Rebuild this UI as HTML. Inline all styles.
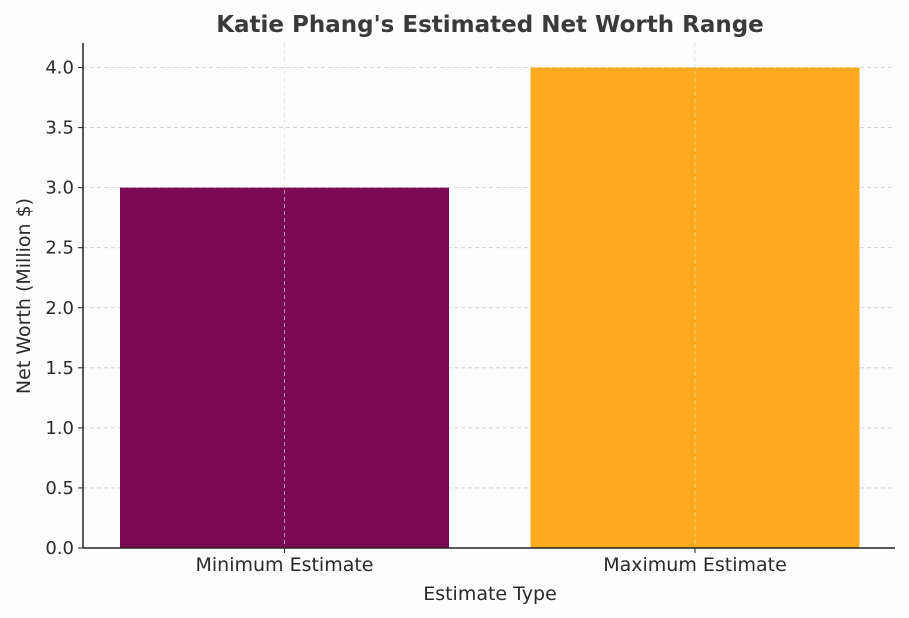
<!DOCTYPE html>
<html><head><meta charset="utf-8"><style>
body{margin:0;background:#fdfdfd;}
svg{display:block;font-family:"DejaVu Sans","Liberation Sans",sans-serif;}
</style></head><body>
<svg id="chart" width="909" height="618">
<text x="490" y="32" text-anchor="middle" font-size="23" font-weight="bold" fill="#3a3a3a">Katie Phang's Estimated Net Worth Range</text>
<text x="490" y="600" text-anchor="middle" font-size="19" fill="#2a2a2a">Estimate Type</text>
<text transform="translate(30,296) rotate(-90)" text-anchor="middle" font-size="19" fill="#2a2a2a">Net Worth (Million $)</text>
<g id="grid"></g><g id="bars"></g><g id="vgrid"></g><g id="ticks"></g>
<line x1="83" y1="43" x2="83" y2="548" stroke="#222" stroke-width="1.5"/>
<line x1="83" y1="548" x2="895" y2="548" stroke="#222" stroke-width="1.5"/>
</svg>
<script>
const categories=["Minimum Estimate","Maximum Estimate"];
const values=[3.0,4.0];
const colors=["#7b0a55","#fbab1d"];
const yTicks=[0,0.5,1,1.5,2,2.5,3,3.5,4];
const ns="http://www.w3.org/2000/svg";
const y0=548,yMax=4.2,yTop=43.5;
function y(v){return y0-v/yMax*(y0-yTop);}
const left=83,right=895,n=categories.length;
const band=(right-left)/(n+0.0);
function xc(i){return 284.5+i*410.5;}
const bw=329;
function mk(t,a,p){const e=document.createElementNS(ns,t);for(const k in a)e.setAttribute(k,a[k]);p.appendChild(e);return e;}
const grid=document.getElementById('grid'),bars=document.getElementById('bars'),vg=document.getElementById('vgrid'),tk=document.getElementById('ticks');
yTicks.forEach(v=>{
 const l=mk('line',{x1:83,x2:895,y1:y(v),y2:y(v),stroke:'#ccc','stroke-dasharray':'4,3','stroke-width':0.8},grid);
 
 
 const t=mk('line',{x1:78,x2:83,y1:y(v),y2:y(v),stroke:'#222'},tk);
 
 
 const tx=mk('text',{x:74,y:y(v)+6,'text-anchor':'end','font-size':18,fill:'#2a2a2a'},tk);
 tx.textContent=v.toFixed(1);
 
 
});
categories.forEach((c,i)=>{
 const r=mk('rect',{x:xc(i)-bw/2,y:y(values[i]),width:bw,height:y0-y(values[i]),fill:colors[i]},bars);
 
 
 const g=mk('line',{x1:xc(i),x2:xc(i),y1:43,y2:548,stroke:'#ddd','stroke-dasharray':'4,3','stroke-width':0.8,opacity:0.8},vg);
 
 
 const t=mk('line',{x1:xc(i),x2:xc(i),y1:548,y2:553,stroke:'#222'},tk);
 
 
 const tx=mk('text',{x:xc(i),y:571,'text-anchor':'middle','font-size':19,fill:'#2a2a2a'},tk);
 tx.textContent=c;
 
 
});
</script>
</body></html>
